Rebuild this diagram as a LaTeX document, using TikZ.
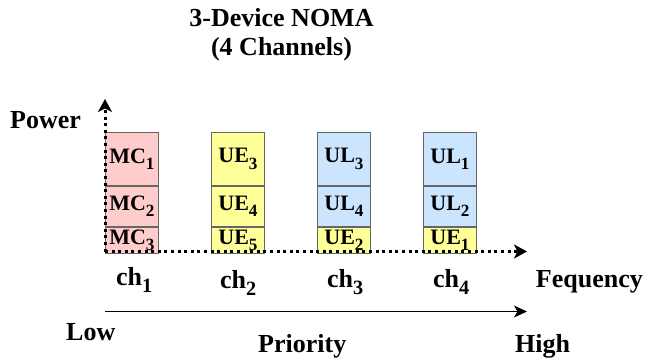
\documentclass[tikz,border=0pt]{standalone}
\usepackage{fontspec}
\setmainfont{Liberation Serif}
\usetikzlibrary{arrows.meta}
% subscript index, set smaller and lowered
\newcommand{\lowidx}[1]{\raisebox{-0.28em}{\fontsize{0.78em}{0.78em}\selectfont #1}}
\definecolor{cellpink}{HTML}{FFCCCC}
\definecolor{cellyellow}{HTML}{FFFF99}
\definecolor{cellblue}{HTML}{CCE5FF}
\definecolor{cellline}{HTML}{666666}
\tikzset{
  x=1pt, y=-1pt,
  big/.style={font=\fontsize{26}{30}\selectfont\bfseries, inner sep=0pt},
  cell/.style={draw=cellline, line width=0.9pt, minimum width=53pt, inner sep=0pt,
    font=\fontsize{22}{24}\selectfont\bfseries},
  tall/.style={cell, minimum height=53pt},
  mid/.style={cell, minimum height=40pt},
  low/.style={cell, minimum height=26.5pt},
  axis/.style={line width=3pt, dash pattern=on 3pt off 3.6pt,
    -{Stealth[length=13pt,width=14pt,inset=3.5pt]}},
  prio/.style={line width=1.1pt, -{Stealth[length=13pt,width=12pt,inset=3.5pt]}}
}
\begin{document}
\begin{tikzpicture}
\useasboundingbox (0,0) rectangle (645,362);

% title
\node[big, anchor=base] (title1) at (281.5,26) {3-Device NOMA};
\node[big, anchor=base] (title2) at (281.5,55) {(4 Channels)};

% channel 1
\node[tall, fill=cellpink, anchor=north west] (mc1) at (105,132) {MC\lowidx{1}};
\node[mid, fill=cellpink, anchor=north] (mc2) at (mc1.south) {MC\lowidx{2}};
\node[low, fill=cellpink, anchor=north] (mc3) at (mc2.south) {MC\lowidx{3}};

% channel 2
\node[tall, fill=cellyellow, anchor=north west] (ue3) at (211,132) {UE\lowidx{3}};
\node[mid, fill=cellyellow, anchor=north] (ue4) at (ue3.south) {UE\lowidx{4}};
\node[low, fill=cellyellow, anchor=north] (ue5) at (ue4.south) {UE\lowidx{5}};

% channel 3
\node[tall, fill=cellblue, anchor=north west] (ul3) at (317,132) {UL\lowidx{3}};
\node[mid, fill=cellblue, anchor=north] (ul4) at (ul3.south) {UL\lowidx{4}};
\node[low, fill=cellyellow, anchor=north] (ue2) at (ul4.south) {UE\lowidx{2}};

% channel 4
\node[tall, fill=cellblue, anchor=north west] (ul1) at (423,132) {UL\lowidx{1}};
\node[mid, fill=cellblue, anchor=north] (ul2) at (ul1.south) {UL\lowidx{2}};
\node[low, fill=cellyellow, anchor=north] (ue1) at (ul2.south) {UE\lowidx{1}};

% power / frequency axes
\coordinate (origin) at (105,251.5);
\coordinate (ytip) at (105,99);
\coordinate (xtip) at (527,251.5);
\draw[axis] (origin) -- (ytip);
\draw[axis] (origin) -- (xtip);

% axis labels
\node[big, anchor=base west] (power) at (10,128) {Power};
\node[big, anchor=base west] (ch1) at (116,285) {ch\lowidx{1}};
\node[big, anchor=base west] (ch2) at (220,288) {ch\lowidx{2}};
\node[big, anchor=base west] (ch3) at (327,287) {ch\lowidx{3}};
\node[big, anchor=base west] (ch4) at (433,287) {ch\lowidx{4}};
\node[big, anchor=base east] (freq) at (643,287) {Fequency};

% priority arrow
\coordinate (plow) at (105,311.5);
\coordinate (phigh) at (527,311.5);
\draw[prio] (plow) -- (phigh);
\node[big, anchor=base west] (low) at (66,340) {Low};
\node[big, anchor=base west] (priority) at (258,352) {Priority};
\node[big, anchor=base west] (high) at (515,352) {High};
\end{tikzpicture}
\end{document}
